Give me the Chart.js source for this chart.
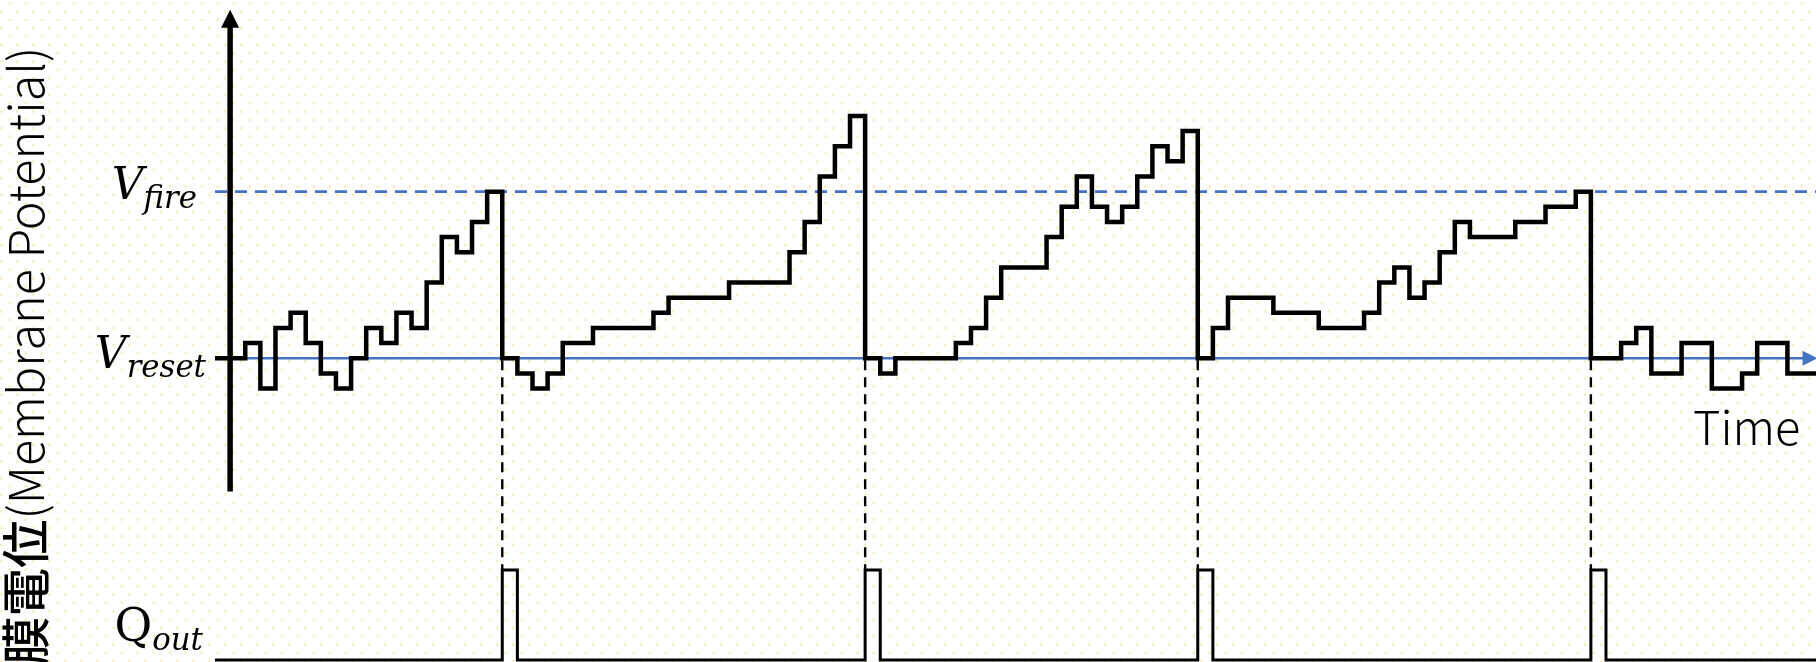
<!DOCTYPE html>
<html lang="ja">
<head>
<meta charset="utf-8">
<title>膜電位 (Membrane Potential)</title>
<script src="https://cdn.jsdelivr.net/npm/chart.js@4.4.1/dist/chart.umd.min.js"></script>
<style>
  html, body { margin: 0; padding: 0; background: #fff; }
  #wrap {
    position: relative; width: 1816px; height: 662px; overflow: hidden;
    background-color: #fff;
    background-image:
      radial-gradient(circle, #f7e4ab 0 0.9px, rgba(247,228,171,0) 1.5px),
      radial-gradient(circle, #f7e4ab 0 0.9px, rgba(247,228,171,0) 1.5px);
    background-size: 16px 16.67px;
    background-position: 1.7px 11.64px, 9.3px 3.37px;
  }
  canvas { position: absolute; left: 0; top: 0; }
  .math {
    position: absolute; white-space: nowrap; color: #000; text-align: right;
    font-family: "DejaVu Serif", "Liberation Serif", serif; font-style: italic;
    font-size: 44px; line-height: 44px;
  }
  .math sub { font-size: 0.7em; vertical-align: -0.28em; line-height: 0; }
  .math .up { font-style: normal; font-size: 46px; }
  #ytitle {
    position: absolute; left: 0; top: 0; white-space: nowrap; color: #000;
    transform-origin: 0 0; transform: translate(-1px, 665px) rotate(-90deg);
    font-family: "Noto Sans CJK JP", "Noto Sans", sans-serif;
    font-size: 48.5px; line-height: 48px; font-weight: 300;
  }
  #ytitle b { font-weight: 500; }
  #timeLabel {
    position: absolute; left: 1693px; top: 401px; white-space: nowrap; color: #000;
    font-family: "Noto Sans CJK JP", "Noto Sans", sans-serif;
    font-size: 47px; line-height: 47px; font-weight: 300;
  }
</style>
</head>
<body>
<div id="wrap">
  <canvas id="chart" width="1816" height="662"></canvas>
  <div class="math" style="right:1619px; top:162px;">V<sub>fire</sub></div>
  <div class="math" style="right:1610px; top:331px;">V<sub>reset</sub></div>
  <div class="math" style="right:1613px; top:603px;"><span class="up">Q</span><sub>out</sub></div>
  <div id="ytitle"><b>膜電位</b>(Membrane Potential)</div>
  <div id="timeLabel">Time</div>
</div>
<script>
// Membrane potential, in threshold steps above the reset level.
// Each value holds from its time step until the next one.
const stepTimes = [
  0, 2, 3, 4, 5, 6, 7, 8, 9, 10, 11, 12, 13, 14, 15, 16, 17, 18,
  19, 20, 21, 22, 23, 25, 29, 30, 34, 38, 39, 40, 41, 42,
  43, 44, 45, 49, 50, 51, 52, 55, 56, 57, 58, 59, 60, 61, 62, 63, 64,
  65, 66, 67, 70, 73, 76, 77, 78, 79, 80, 81, 82, 83, 86, 88, 90,
  91, 93, 94, 95, 97, 99, 101, 102, 104, 107
];
const potential = [
  0, 1, -2, 2, 3, 1, -1, -2, 0, 2, 1, 3, 2, 5, 8, 7, 9, 11,
  0, -1, -2, -1, 1, 2, 3, 4, 5, 7, 9, 12, 14, 16,
  0, -1, 0, 1, 2, 4, 6, 8, 10, 12, 10, 9, 10, 12, 14, 13, 15,
  0, 2, 4, 3, 2, 3, 5, 6, 4, 5, 7, 9, 8, 9, 10, 11,
  0, 1, 2, -1, 1, -2, -1, 1, -1, -1
];

// Output spikes (Q_out): one time step high at each firing.
const pulseTimes  = [0, 19, 20, 43, 44, 65, 66, 91, 92, 107];
const pulseLevels = [0, 1, 0, 1, 0, 1, 0, 1, 0, 0];
const spikeTimes  = [19, 43, 65, 91];

const V_RESET = 0;
const V_FIRE = 11;
const TIME_END = 106;          // tip of the time arrow
const AXIS_TOP = 23;           // tip of the potential arrow
const AXIS_BOTTOM = -8.8;

const BLUE = '#4472C4';

const toPoints = (xs, ys) => xs.map((x, i) => ({ x, y: ys[i] }));

// Reference lines, spike markers and the potential axis, drawn from the scales.
const guides = {
  id: 'guides',
  beforeDatasetsDraw(chart) {
    const { ctx, scales: { x, v, q } } = chart;
    const x0 = x.getPixelForValue(stepTimes[0]);
    const yFire = v.getPixelForValue(V_FIRE);
    const yReset = v.getPixelForValue(V_RESET);
    ctx.save();

    // firing threshold
    ctx.strokeStyle = BLUE; ctx.lineWidth = 2.75; ctx.setLineDash([12, 8]);
    ctx.beginPath(); ctx.moveTo(x0, yFire); ctx.lineTo(x.getPixelForValue(TIME_END), yFire); ctx.stroke();

    // reset level, doubling as the time axis
    const xTip = x.getPixelForValue(TIME_END);
    const xBase = x.getPixelForValue(TIME_END - 1);
    ctx.setLineDash([]); ctx.lineWidth = 2.5;
    ctx.beginPath(); ctx.moveTo(x0, yReset); ctx.lineTo(xBase + 1, yReset); ctx.stroke();
    ctx.fillStyle = BLUE;
    ctx.beginPath(); ctx.moveTo(xTip, yReset); ctx.lineTo(xBase, yReset - 7.5); ctx.lineTo(xBase, yReset + 7.5); ctx.closePath(); ctx.fill();

    // spike markers down to the output pulses
    ctx.strokeStyle = '#000'; ctx.lineWidth = 2.4; ctx.setLineDash([10, 7]);
    const yPulse = q.getPixelForValue(1);
    spikeTimes.forEach(t => {
      const px = x.getPixelForValue(t);
      ctx.beginPath(); ctx.moveTo(px, yReset + 2); ctx.lineTo(px, yPulse); ctx.stroke();
    });

    // potential axis with arrow head
    const ax = x.getPixelForValue(1);
    const yTop = v.getPixelForValue(AXIS_TOP);
    ctx.setLineDash([]); ctx.lineWidth = 5.5;
    ctx.beginPath(); ctx.moveTo(ax, v.getPixelForValue(AXIS_BOTTOM)); ctx.lineTo(ax, yTop + 14); ctx.stroke();
    ctx.fillStyle = '#000';
    ctx.beginPath(); ctx.moveTo(ax, yTop); ctx.lineTo(ax - 9, yTop + 18); ctx.lineTo(ax + 9, yTop + 18); ctx.closePath(); ctx.fill();

    ctx.restore();
  }
};

new Chart(document.getElementById('chart'), {
  type: 'line',
  data: {
    datasets: [
      {
        label: '膜電位',
        data: toPoints(stepTimes, potential),
        yAxisID: 'v',
        stepped: true,
        borderColor: '#000',
        borderWidth: 4.5,
        borderJoinStyle: 'miter',
        pointRadius: 0,
        fill: false
      },
      {
        label: 'Q_out',
        data: toPoints(pulseTimes, pulseLevels),
        yAxisID: 'q',
        stepped: true,
        borderColor: '#000',
        borderWidth: 3,
        borderJoinStyle: 'miter',
        pointRadius: 0,
        fill: false
      }
    ]
  },
  options: {
    responsive: false,
    animation: false,
    events: [],
    layout: { padding: 0 },
    plugins: { legend: { display: false }, tooltip: { enabled: false } },
    scales: {
      x: { type: 'linear', min: -14.22, max: 105.89, display: false },
      v: { type: 'linear', position: 'left', min: -20.05, max: 23.65, display: false },
      q: { type: 'linear', position: 'right', min: -0.0222, max: 7.333, display: false }
    }
  },
  plugins: [guides]
});
</script>
</body>
</html>
